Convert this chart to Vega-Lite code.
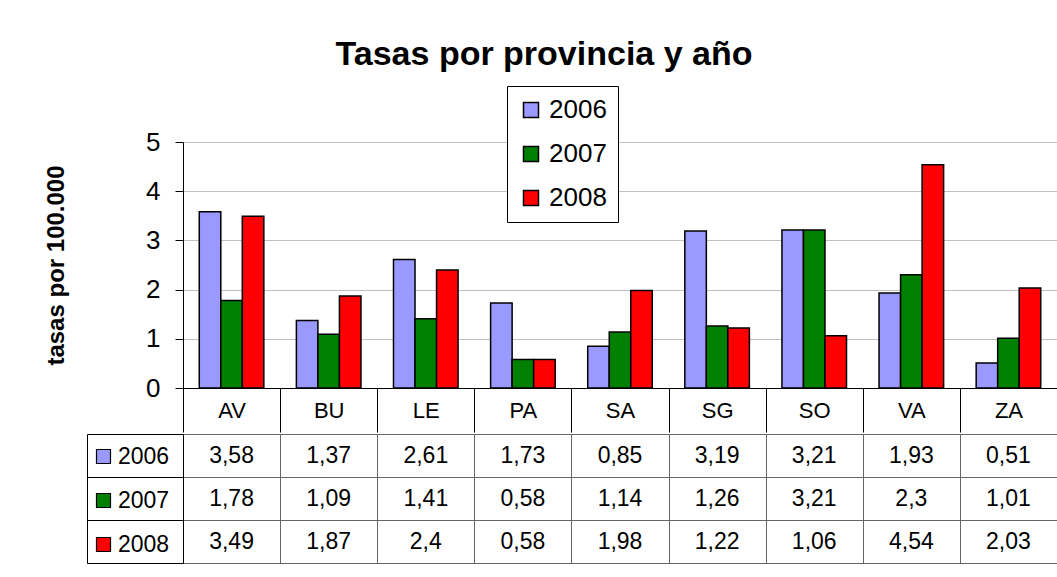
{
  "$schema": "https://vega.github.io/schema/vega-lite/v6.json",
  "background": "white",
  "padding": {"left": 44, "top": 37, "right": 0, "bottom": 0},
  "config": {
    "font": "Liberation Sans",
    "locale": {"number": {"decimal": ",", "thousands": ".", "grouping": [3], "currency": ["", " €"]}},
    "axis": {"labelFont": "Liberation Sans", "titleFont": "Liberation Sans", "labelColor": "black", "titleColor": "black"},
    "legend": {"labelFont": "Liberation Sans", "labelColor": "black"},
    "concat": {"spacing": 0}
  },
  "title": {"text": "Tasas por provincia y año", "fontSize": 34, "font": "Liberation Sans", "fontWeight": "bold", "color": "black", "anchor": "middle", "offset": 14, "dx": -7},
  "datasets": {
    "tasas": [
      {"prov": "AV", "year": "2006", "tasa": 3.58},
      {"prov": "BU", "year": "2006", "tasa": 1.37},
      {"prov": "LE", "year": "2006", "tasa": 2.61},
      {"prov": "PA", "year": "2006", "tasa": 1.73},
      {"prov": "SA", "year": "2006", "tasa": 0.85},
      {"prov": "SG", "year": "2006", "tasa": 3.19},
      {"prov": "SO", "year": "2006", "tasa": 3.21},
      {"prov": "VA", "year": "2006", "tasa": 1.93},
      {"prov": "ZA", "year": "2006", "tasa": 0.51},
      {"prov": "AV", "year": "2007", "tasa": 1.78},
      {"prov": "BU", "year": "2007", "tasa": 1.09},
      {"prov": "LE", "year": "2007", "tasa": 1.41},
      {"prov": "PA", "year": "2007", "tasa": 0.58},
      {"prov": "SA", "year": "2007", "tasa": 1.14},
      {"prov": "SG", "year": "2007", "tasa": 1.26},
      {"prov": "SO", "year": "2007", "tasa": 3.21},
      {"prov": "VA", "year": "2007", "tasa": 2.3},
      {"prov": "ZA", "year": "2007", "tasa": 1.01},
      {"prov": "AV", "year": "2008", "tasa": 3.49},
      {"prov": "BU", "year": "2008", "tasa": 1.87},
      {"prov": "LE", "year": "2008", "tasa": 2.4},
      {"prov": "PA", "year": "2008", "tasa": 0.58},
      {"prov": "SA", "year": "2008", "tasa": 1.98},
      {"prov": "SG", "year": "2008", "tasa": 1.22},
      {"prov": "SO", "year": "2008", "tasa": 1.06},
      {"prov": "VA", "year": "2008", "tasa": 4.54},
      {"prov": "ZA", "year": "2008", "tasa": 2.03}
    ]
  },
  "spacing": 0,
  "resolve": {"scale": {"color": "independent", "fill": "independent"}, "legend": {"color": "independent", "fill": "independent"}},
  "vconcat": [
    {
      "width": 874,
      "height": 246,
      "view": {"stroke": null},
      "data": {"name": "tasas"},
      "mark": {"type": "bar", "stroke": "black", "strokeWidth": 1.5},
      "encoding": {
        "x": {"field": "prov", "type": "nominal", "scale": {"paddingInner": 0, "paddingOuter": 0},
          "axis": {"title": null, "orient": "bottom", "tickBand": "extent", "ticks": true, "tickSize": 44, "tickColor": "black", "domainColor": "black", "labelAngle": 0, "labelFontSize": 22, "labelBaseline": "middle", "labelPadding": -22, "grid": false}},
        "xOffset": {"field": "year", "type": "nominal", "scale": {"paddingInner": 0, "paddingOuter": 0.756}},
        "y": {"field": "tasa", "type": "quantitative", "scale": {"domain": [0, 5], "nice": false},
          "axis": {"title": "tasas por 100.000", "titleFontSize": 24, "titleFontWeight": "bold", "titlePadding": 77, "values": [0, 1, 2, 3, 4, 5], "format": "d", "labelFontSize": 26, "labelPadding": 15, "tickSize": 8, "tickColor": "black", "domainColor": "black", "gridColor": "#c0c0c0"}},
        "color": {"field": "year", "type": "nominal", "scale": {"domain": ["2006", "2007", "2008"], "range": ["#9999FF", "#008000", "#FF0000"]},
          "legend": {"title": null, "orient": "none", "legendX": 324, "legendY": -56, "padding": 11, "strokeColor": "black", "fillColor": "white", "labelFontSize": 26, "symbolType": "square", "symbolSize": 225, "symbolStrokeColor": "black", "symbolStrokeWidth": 1.5, "rowPadding": 18, "labelOffset": 5, "symbolOpacity": 1}}
      }
    },
    {
      "width": 874,
      "height": 129,
      "view": {"stroke": "black", "strokeWidth": 1},
      "data": {"name": "tasas"},
      "layer": [
        {
          "mark": {"type": "text", "fontSize": 23, "color": "black", "baseline": "middle", "align": "center"},
          "encoding": {
            "x": {"field": "prov", "type": "nominal", "scale": {"paddingInner": 0, "paddingOuter": 0},
              "axis": {"orient": "top", "title": null, "labels": false, "ticks": false, "domain": false, "grid": true, "tickBand": "extent", "gridColor": "#666666"}},
            "y": {"field": "year", "type": "nominal", "scale": {"paddingInner": 0, "paddingOuter": 0},
              "axis": {"title": null, "labels": false, "ticks": true, "tickSize": 96, "tickColor": "black", "domain": true, "domainColor": "black", "grid": true, "gridColor": "#666666", "tickBand": "extent"}},
            "text": {"field": "tasa", "type": "quantitative"}
          }
        },
        {
          "mark": {"type": "text", "text": ""},
          "encoding": {
            "y": {"field": "year", "type": "nominal", "scale": {"paddingInner": 0, "paddingOuter": 0},
              "axis": {"orient": "left", "offset": 96, "title": null, "labels": false, "ticks": false, "domain": true, "domainColor": "black", "grid": false}},
            "fill": {"field": "year", "type": "nominal", "scale": {"domain": ["2006", "2007", "2008"], "range": ["#9999FF", "#008000", "#FF0000"]},
              "legend": {"title": null, "orient": "none", "legendX": -91, "legendY": 11, "padding": 0, "labelFontSize": 23, "symbolType": "square", "symbolSize": 196, "symbolStrokeColor": "black", "symbolStrokeWidth": 1.2, "rowPadding": 20, "labelOffset": 3, "symbolOpacity": 1}}
          }
        }
      ],
      "resolve": {"scale": {"y": "independent"}, "axis": {"y": "independent"}}
    }
  ]
}
